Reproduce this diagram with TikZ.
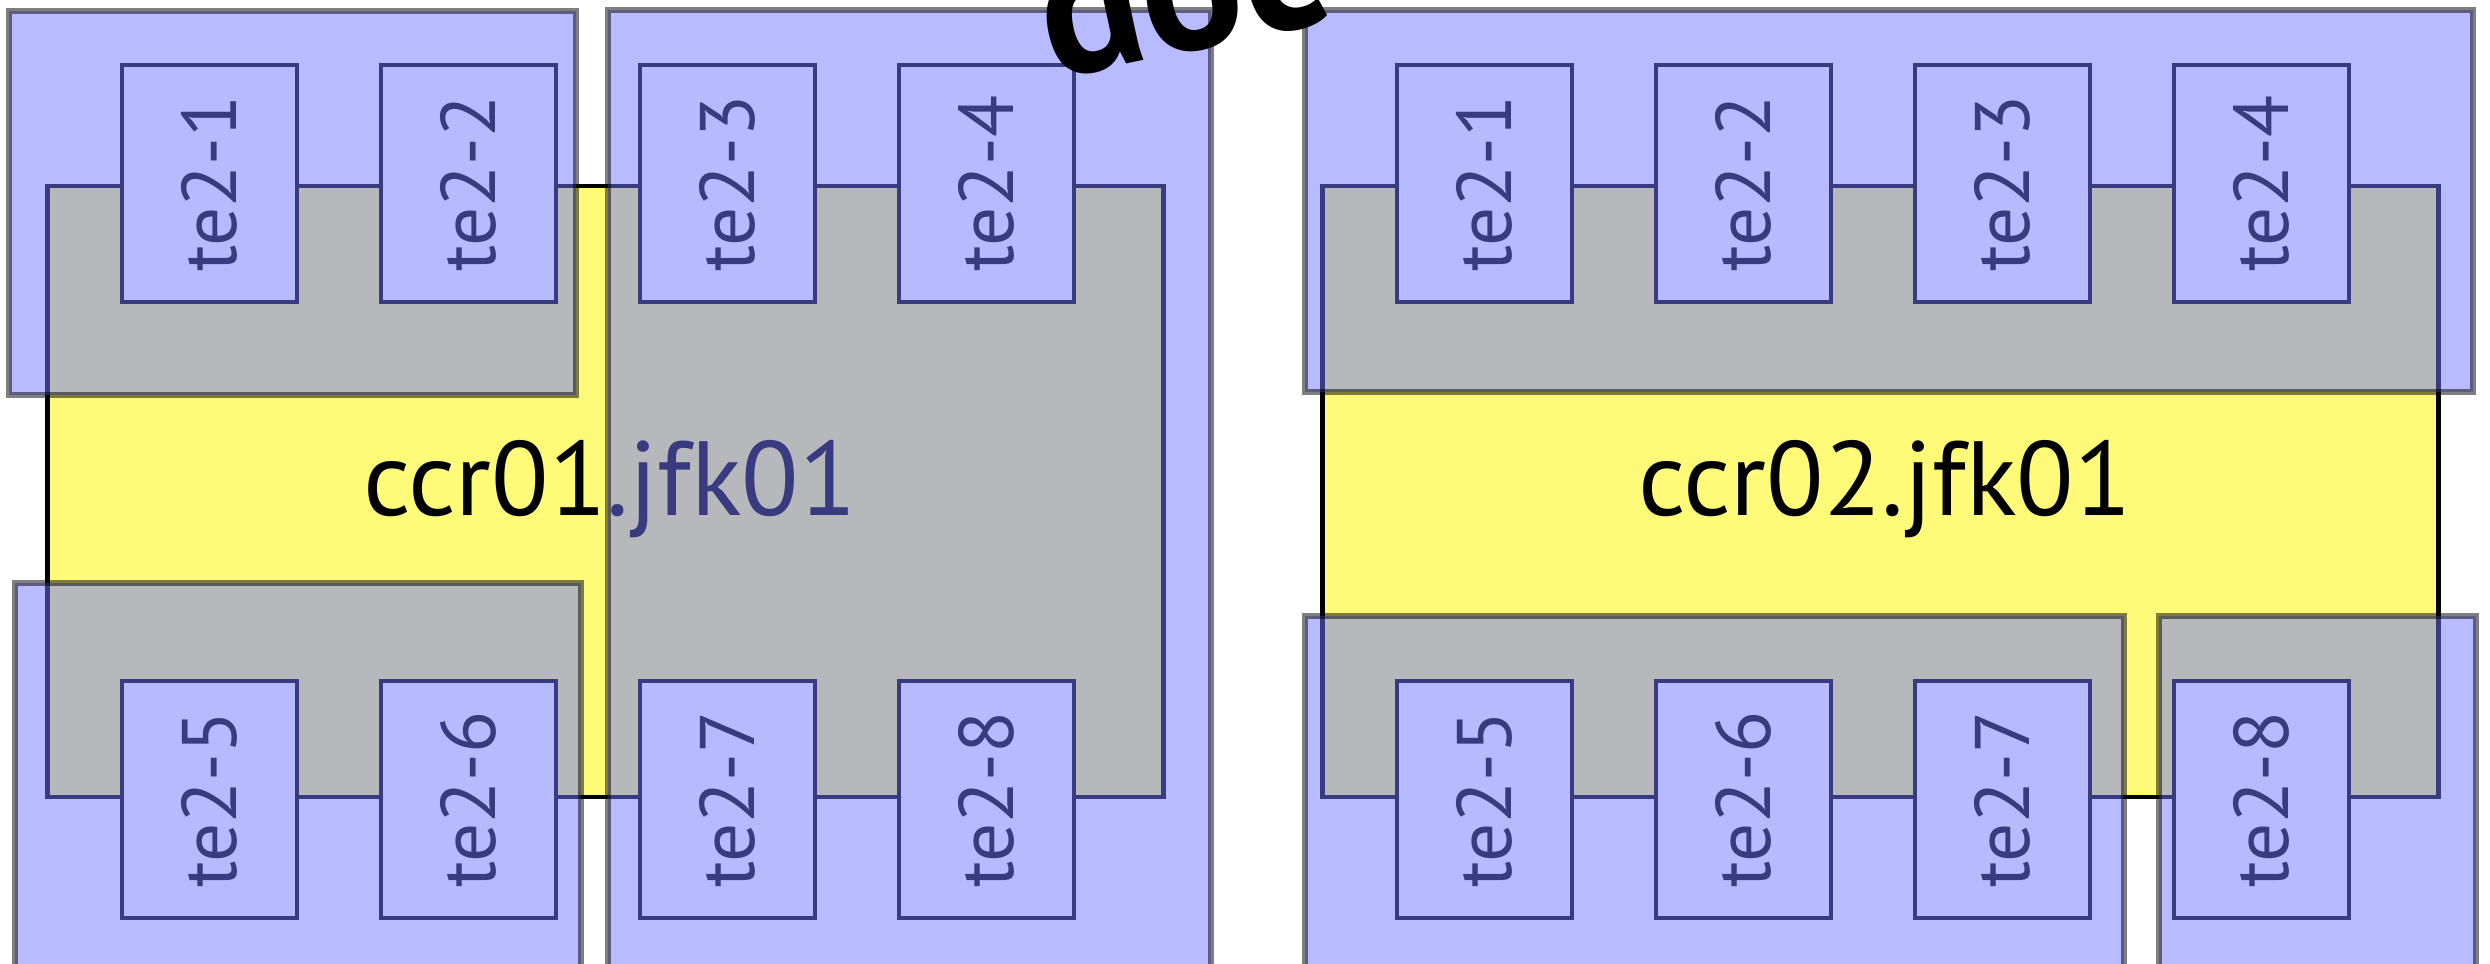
\documentclass[tikz,border=0pt]{standalone}
\usepackage{fontspec}
\setmainfont{PT Sans}
\definecolor{yel}{RGB}{255,250,120}
\definecolor{ovl}{RGB}{113,119,255}
\tikzset{
  chassis/.style={fill=yel,draw=black,line width=1.3pt,inner sep=0pt},
  tebox/.style={draw=black,fill=white,line width=1.3pt,rotate=90,
    minimum width=2.37cm,minimum height=1.75cm,inner sep=0pt,
    font=\fontsize{22}{26}\selectfont},
  zone/.style={fill=ovl,draw=black,opacity=0.5,line width=1.6pt},
  chlabel/.style={font=\fontsize{30}{36}\selectfont,inner sep=0pt,anchor=base},
  bigtext/.style={font=\bfseries\fontsize{54}{60}\selectfont,inner sep=0pt},
}
\begin{document}
\begin{tikzpicture}[x=0.01cm,y=-0.01cm]
\useasboundingbox (0,0) rectangle (2490,963);
\clip (0,0) rectangle (2490,963);
% chassis (yellow)
\node[chassis,minimum width=11.15cm,minimum height=6.11cm] (c1) at (605.5,491.5) {};
\node[chassis,minimum width=11.15cm,minimum height=6.11cm] (c2) at (1880.5,491.5) {};
\node[chlabel] (c1lab) at (610,515) {ccr01.jfk01};
\node[chlabel] (c2lab) at (1885,515) {ccr02.jfk01};
% te2 modules, left chassis
\node[tebox] (a1) at (209.5,183.5) {te2-1};
\node[tebox] (a2) at (468.5,183.5) {te2-2};
\node[tebox] (a3) at (727.5,183.5) {te2-3};
\node[tebox] (a4) at (986.5,183.5) {te2-4};
\node[tebox] (a5) at (209.5,799.5) {te2-5};
\node[tebox] (a6) at (468.5,799.5) {te2-6};
\node[tebox] (a7) at (727.5,799.5) {te2-7};
\node[tebox] (a8) at (986.5,799.5) {te2-8};
% te2 modules, right chassis
\node[tebox] (b1) at (1484.5,183.5) {te2-1};
\node[tebox] (b2) at (1743.5,183.5) {te2-2};
\node[tebox] (b3) at (2002.5,183.5) {te2-3};
\node[tebox] (b4) at (2261.5,183.5) {te2-4};
\node[tebox] (b5) at (1484.5,799.5) {te2-5};
\node[tebox] (b6) at (1743.5,799.5) {te2-6};
\node[tebox] (b7) at (2002.5,799.5) {te2-7};
\node[tebox] (b8) at (2261.5,799.5) {te2-8};
% translucent zones
\path[zone] (9,11) rectangle (576,395);
\path[zone] (15,583) rectangle (581,985);
\path[zone] (608,10) rectangle (1211,985);
\path[zone] (1305,10) rectangle (2473,392);
\path[zone] (1305,616) rectangle (2124,985);
\path[zone] (2159,616) rectangle (2476,985);
% cut-off title
\node[bigtext,anchor=base west,rotate=12] (title) at (1052,80) {doc};
\end{tikzpicture}
\end{document}
